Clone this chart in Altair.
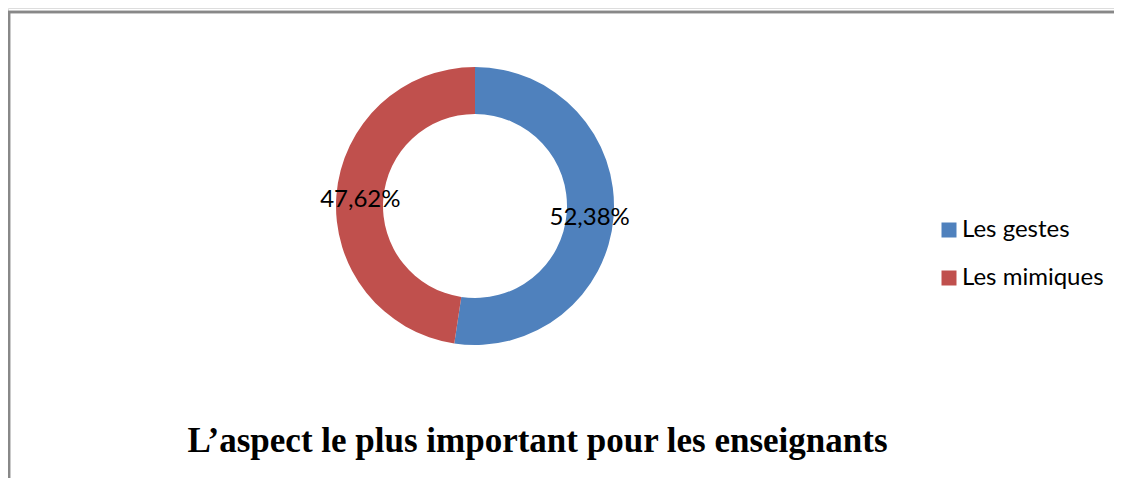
import altair as alt
import pandas as pd

categories = ["Les gestes", "Les mimiques"]
values = [52.38, 47.62]
labels = ["52,38%", "47,62%"]
colors = ["#4F81BD", "#C0504D"]
title_text = ["L’aspect le plus important pour les enseignants"]

df = pd.DataFrame({
    "cat": categories,
    "value": values,
    "label": labels,
    "order": list(range(len(categories))),
})
title_df = pd.DataFrame({"t": title_text})

CX, CY = 467, 198

base = alt.Chart(df).encode(
    theta=alt.Theta("value:Q", stack=True),
    order=alt.Order("order:Q"),
)

arc = base.mark_arc(innerRadius=92, outerRadius=139, strokeWidth=0).encode(
    x=alt.value(CX),
    y=alt.value(CY),
    color=alt.Color(
        "cat:N",
        scale=alt.Scale(domain=categories, range=colors),
        legend=alt.Legend(
            title=None,
            orient="none",
            legendX=929,
            legendY=210,
            symbolType="square",
            symbolSize=225,
            symbolStrokeWidth=0,
            labelFont="Lato",
            labelFontSize=24,
            labelColor="black",
            labelOffset=1,
            rowPadding=24,
            padding=0,
        ),
    ),
)

text = base.mark_text(radius=115, font="Lato", fontSize=24, baseline="middle", dy=3).encode(
    x=alt.value(CX),
    y=alt.value(CY),
    detail="cat:N",
    text="label:N",
    color=alt.value("black"),
)

title = alt.Chart(title_df).mark_text(
    font="Liberation Serif",
    fontSize=35,
    fontWeight="bold",
    color="black",
    align="center",
    baseline="alphabetic",
).encode(
    text="t:N",
    x=alt.value(529.5),
    y=alt.value(444),
)

frame_top = alt.Chart(df).mark_rule(color="#888888", strokeWidth=2.5).encode(
    x=alt.value(0), x2=alt.value(1120), y=alt.value(4)
)
frame_left = alt.Chart(df).mark_rule(color="#888888", strokeWidth=2.5).encode(
    x=alt.value(1), y=alt.value(3), y2=alt.value(480)
)

chart = alt.layer(frame_top, frame_left, arc, text, title).properties(
    width=1106,
    height=470,
    padding=0,
    autosize=alt.AutoSizeParams(type="none"),
).configure_view(strokeWidth=0, stroke="transparent").configure(background="white")

chart.save("out.html", embed_options={"renderer": "svg", "actions": False})
